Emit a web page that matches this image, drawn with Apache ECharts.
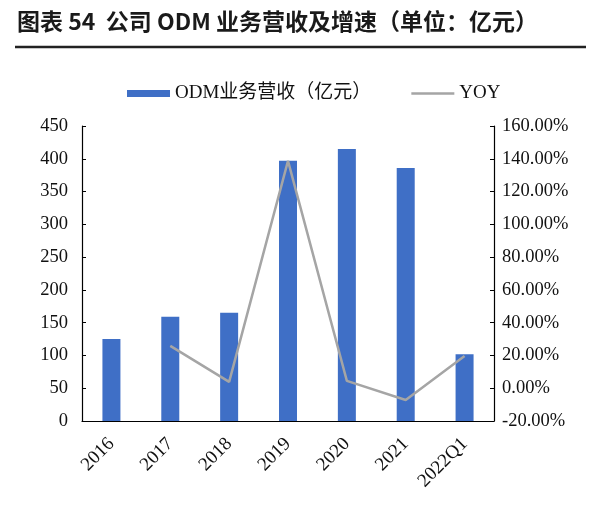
<!DOCTYPE html>
<html><head><meta charset="utf-8">
<script src="https://cdn.jsdelivr.net/npm/echarts@6/dist/echarts.min.js"></script>
<style>html,body{margin:0;padding:0;background:#fff}#c{width:600px;height:525px}</style>
</head><body><div id="c"></div>
<script>
var categories = ['2016','2017','2018','2019','2020','2021','2022Q1'];
var revenue = [125, 159, 165, 397, 415, 386, 102];
var yoy = [null, 25.8, 3.9, 138.7, 4.5, -7.2, 19.7];
var leftTicks = [0, 450, 50];
var rightTicks = [-20, 160, 20];

var serif = '"Liberation Serif","Times New Roman","Noto Sans CJK SC",serif';
var chart = echarts.init(document.getElementById('c'));
chart.setOption({
  backgroundColor: '#fff',
  animation: false,
  graphic: [
    {type:'text', left:17, top:10, style:{text:'图表 54  公司 ODM 业务营收及增速（单位：亿元）', font:'bold 23px "Noto Sans CJK SC", sans-serif', fill:'#1a1a1a'}},
    {type:'line', shape:{x1:15,y1:47,x2:586,y2:47}, style:{stroke:'#222', lineWidth:2.5}}
  ],
  legend: {
    left: 122, top: 79, itemGap: 40, itemWidth: 43, itemHeight: 7,
    textStyle: {fontFamily: serif, fontSize: 19, color: '#111'},
    data: [
      {name:'ODM业务营收（亿元）', icon:'rect'},
      {name:'YOY', icon:'path://M0,0 L43,0 L43,2.5 L0,2.5 Z'}
    ]
  },
  grid: {left: 82, right: 106, top: 126, bottom: 104},
  xAxis: {
    type: 'category', data: categories,
    axisLine: {lineStyle: {color: '#000', width: 1.2}},
    axisTick: {show: false},
    axisLabel: {rotate: 45, fontFamily: serif, fontSize: 19, color: '#111', margin: 20}
  },
  yAxis: [
    {type:'value', min:leftTicks[0], max:leftTicks[1], interval:leftTicks[2],
     axisLine:{show:true, lineStyle:{color:'#000', width:1.2}},
     axisTick:{show:true, inside:true, length:4, lineStyle:{color:'#000'}},
     splitLine:{show:false},
     axisLabel:{fontFamily: serif, fontSize: 18.5, color:'#111', margin: 14}},
    {type:'value', min:rightTicks[0], max:rightTicks[1], interval:rightTicks[2],
     axisLine:{show:true, lineStyle:{color:'#000', width:1.2}},
     axisTick:{show:true, inside:true, length:4, lineStyle:{color:'#000'}},
     splitLine:{show:false},
     axisLabel:{fontFamily: serif, fontSize: 18.5, color:'#111', margin: 8,
       formatter: function(v){ return v.toFixed(2) + '%'; }}}
  ],
  series: [
    {name:'ODM业务营收（亿元）', type:'bar', data: revenue, barWidth: 18,
     itemStyle:{color:'#3F6FC6'}},
    {name:'YOY', type:'line', yAxisIndex:1, data: yoy, symbol:'none',
     connectNulls:false,
     lineStyle:{color:'#A5A5A5', width:2.5}, itemStyle:{color:'#A5A5A5'}}
  ]
});
</script></body></html>
